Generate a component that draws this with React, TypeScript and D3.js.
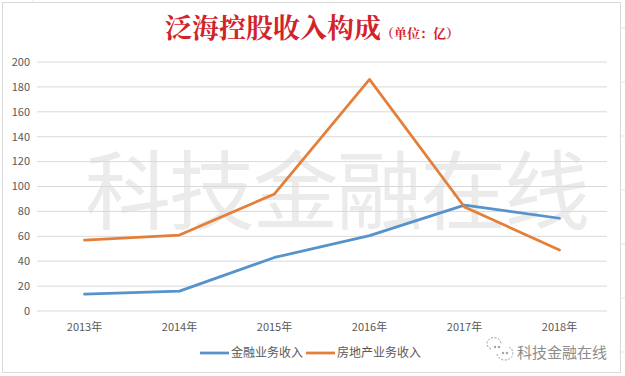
import React from "react";
import * as d3 from "d3";

const years = ["2013年", "2014年", "2015年", "2016年", "2017年", "2018年"];
const finance = [13.5, 16, 43, 60.5, 85, 74.5];
const realEstate = [57, 61, 94, 186, 83.5, 49];
const yTicks = [0, 20, 40, 60, 80, 100, 120, 140, 160, 180, 200];
const seriesNames = ["金融业务收入", "房地产业务收入"];
const seriesColors = ["#5692cb", "#e47f39"];
const title = "泛海控股收入构成";
const unit = "（单位：亿）";
const watermark = "科技金融在线";

const W = 625;
const H = 376;
const plotLeft = 37;
const plotRight = 607;
const plotTop = 62;
const plotBottom = 311;

const CJK = "'Noto Sans CJK SC', 'Noto Sans', sans-serif";

export default function App() {
  const x = d3.scaleBand<string>().domain(years).range([plotLeft, plotRight]);
  const y = d3.scaleLinear().domain([0, 200]).range([plotBottom, plotTop]);
  const cx = (d: string) => (x(d) as number) + x.bandwidth() / 2;
  const line = d3
    .line<number>()
    .x((_, i) => cx(years[i]))
    .y((v) => y(v));
  const series = [finance, realEstate];

  const legendY = 353;
  const legendItems = [
    { x: 200, tx: 231 },
    { x: 306, tx: 337 },
  ];

  return (
    <svg
      width={W}
      height={H}
      style={{ position: "absolute", left: 0, top: 0, background: "#fff" }}
      fontFamily={CJK}
    >
      <rect x={0} y={0} width={W} height={H} fill="#fff" />
      {[28, 82, 136, 190, 244, 298, 352].map((yy) => (
        <line key={"r" + yy} x1={621} x2={625} y1={yy} y2={yy} stroke="#e6e6e6" />
      ))}
      <line x1={33} x2={33} y1={0} y2={2} stroke="#e6e6e6" />
      <rect x={2.5} y={2.5} width={618} height={370} fill="#fff" stroke="#d9d9d9" />

      {/* watermark */}
      <text
        x={85}
        y={223}
        fontSize={86}
        fill="#ebebeb"
        fontFamily={CJK}
        fontWeight={400}
        textLength={505}
        lengthAdjust="spacing"
      >
        {watermark}
      </text>

      {/* title */}
      <text x={165} y={38} fontSize={27} fontWeight="bold" fill="#d2232a" fontFamily="'Noto Serif CJK SC', 'Noto Sans CJK SC', serif">
        {title}
        <tspan fontSize={13}>{unit}</tspan>
      </text>

      {yTicks.map((t) => (
        <g key={t}>
          <line x1={plotLeft} x2={plotRight} y1={y(t)} y2={y(t)} stroke="#d9d9d9" strokeWidth={1} />
          <text x={30} y={y(t)} dy="0.35em" textAnchor="end" fontSize={11} fill="#595959">
            {t}
          </text>
        </g>
      ))}

      {years.map((yr) => (
        <text key={yr} x={cx(yr)} y={331} textAnchor="middle" fontSize={11} fill="#595959">
          {yr}
        </text>
      ))}

      {series.map((s, i) => (
        <path
          key={i}
          d={line(s) as string}
          fill="none"
          stroke={seriesColors[i]}
          strokeWidth={2.75}
          strokeLinejoin="round"
          strokeLinecap="round"
        />
      ))}

      {legendItems.map((it, i) => (
        <g key={i}>
          <line x1={it.x} x2={it.x + 29} y1={legendY} y2={legendY} stroke={seriesColors[i]} strokeWidth={2.75} />
          <text x={it.tx} y={legendY} dy="0.35em" fontSize={12} fill="#595959">
            {seriesNames[i]}
          </text>
        </g>
      ))}

      <g transform="translate(500,351)" fill="none" stroke="#9a9a9a" strokeWidth={1}>
        <path d="M -9 -2 A 7 6 0 1 1 1 -7" strokeDasharray="2 1.5" />
        <path d="M -3 3 A 8 7 0 1 0 9 -4" strokeDasharray="2 1.5" />
        <circle cx={-5} cy={-4} r={0.8} fill="#9a9a9a" />
        <circle cx={-1} cy={-4} r={0.8} fill="#9a9a9a" />
        <circle cx={3} cy={2} r={0.8} fill="#9a9a9a" />
        <circle cx={7} cy={2} r={0.8} fill="#9a9a9a" />
      </g>
      <text x={517} y={358} fontSize={15} fill="#8c8c8c" textLength={90} lengthAdjust="spacing">
        {watermark}
      </text>
    </svg>
  );
}
